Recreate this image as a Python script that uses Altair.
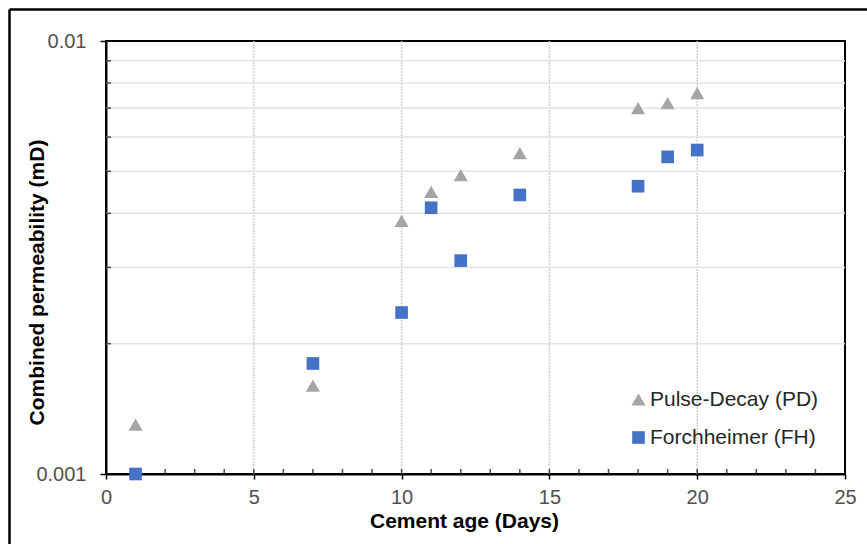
import altair as alt
import pandas as pd

# ---- data ----
days = [1, 7, 10, 11, 12, 14, 18, 19, 20]
pd_perm = [0.00130, 0.00160, 0.00384, 0.00448, 0.00490, 0.00551, 0.00700, 0.00719, 0.00758]
fh_perm = [0.00100, 0.00180, 0.00236, 0.00412, 0.00311, 0.00441, 0.00462, 0.00540, 0.00560]
series_names = ["Pulse-Decay (PD)", "Forchheimer (FH)"]
series_colors = ["#A5A5A5", "#4472C4"]
series_shapes = ["triangle-up", "square"]
series_sizes = [200, 160]

x_major = [0, 5, 10, 15, 20, 25]
x_grid = [5, 10, 15, 20]
x_minor = list(range(0, 26))
y_major = [0.001, 0.01]
y_grid = [0.002, 0.003, 0.004, 0.005, 0.006, 0.007, 0.008, 0.009]

W, H = 739, 433
FONT = "Liberation Sans"

rows = []
for d, v in zip(days, pd_perm):
    rows.append({"day": d, "perm": v, "series": series_names[0]})
for d, v in zip(days, fh_perm):
    rows.append({"day": d, "perm": v, "series": series_names[1]})
df = pd.DataFrame(rows)

xscale = alt.Scale(domain=[0, 25], nice=False, zero=False)
yscale = alt.Scale(type="log", domain=[0.001, 0.01], nice=False)

x_axis = alt.Axis(
    values=x_major,
    title="Cement age (Days)",
    grid=False,
    tickSize=5,
    tickWidth=1.5,
    tickColor="black",
    domainColor="black",
    domainWidth=2,
    labelFont=FONT,
    labelFontSize=20,
    labelColor="#505050",
    labelPadding=8,
    labelFlush=False,
    titleFont=FONT,
    titleFontSize=21,
    titleFontWeight="bold",
    titleColor="#000000",
    titlePadding=3,
    titleX=358,
)
y_axis = alt.Axis(
    values=y_major,
    labelExpr="datum.value > 0.005 ? '0.01' : '0.001'",
    title="Combined permeability  (mD)",
    grid=False,
    tickSize=6,
    tickWidth=1.5,
    tickColor="black",
    domainColor="black",
    domainWidth=2,
    labelFont=FONT,
    labelFontSize=20,
    labelColor="#505050",
    labelPadding=14,
    labelFlush=False,
    titleFont=FONT,
    titleFontSize=21,
    titleFontWeight="bold",
    titleColor="#000000",
    titleAngle=270,
    titleBaseline="middle",
    titleAlign="center",
    titleX=-69,
    titleY=241,
)

# grid lines
hgrid = alt.Chart(pd.DataFrame({"v": y_grid})).mark_rule(
    color="#E3E3E3", strokeWidth=1.5
).encode(y=alt.Y("v:Q", scale=yscale, axis=y_axis))

vgrid = alt.Chart(pd.DataFrame({"v": x_grid})).mark_rule(
    color="#CFCFCF", strokeWidth=1.5, strokeDash=[2, 1]
).encode(x=alt.X("v:Q", scale=xscale, axis=x_axis))

# inward minor ticks
xticks_in = alt.Chart(pd.DataFrame({"v": x_minor})).mark_tick(
    color="black", thickness=1.5, size=5, orient="vertical"
).encode(x=alt.X("v:Q", scale=xscale, axis=x_axis), y=alt.value(H - 2.5))

yticks_in = alt.Chart(pd.DataFrame({"v": y_grid})).mark_tick(
    color="black", thickness=1.5, size=5, orient="horizontal"
).encode(y=alt.Y("v:Q", scale=yscale, axis=y_axis), x=alt.value(2.5))

legend = alt.Legend(
    title=None,
    orient="none",
    legendX=522,
    legendY=348,
    labelFont=FONT,
    labelFontSize=21,
    labelColor="#262626",
    labelLimit=400,
    symbolSize=80,
    symbolStrokeWidth=0,
    rowPadding=16,
    labelOffset=1,
    padding=0,
)

points = alt.Chart(df).mark_point(filled=True, opacity=1).encode(
    x=alt.X("day:Q", scale=xscale, axis=x_axis),
    y=alt.Y("perm:Q", scale=yscale, axis=y_axis),
    color=alt.Color("series:N", scale=alt.Scale(domain=series_names, range=series_colors), legend=legend),
    shape=alt.Shape("series:N", scale=alt.Scale(domain=series_names, range=series_shapes), legend=legend),
    size=alt.Size("series:N", scale=alt.Scale(domain=series_names, range=series_sizes), legend=None),
)

# outer chart-area border (top and left edges visible)
border_top = alt.Chart(pd.DataFrame({"v": [0]})).mark_rule(
    color="black", strokeWidth=2.5
).encode(x=alt.value(-96.5), x2=alt.value(W + 40), y=alt.value(-31.5))
border_left = alt.Chart(pd.DataFrame({"v": [0]})).mark_rule(
    color="black", strokeWidth=2.5
).encode(x=alt.value(-96.5), y=alt.value(-31.5), y2=alt.value(H + 90))

chart = (
    alt.layer(vgrid, hgrid, xticks_in, yticks_in, points, border_top, border_left)
    .properties(
        width=W,
        height=H,
        autosize=alt.AutoSizeParams(type="none"),
        padding={"left": 106, "top": 41, "right": 22, "bottom": 70},
        background="white",
    )
    .configure_view(stroke="black", strokeWidth=2)
)

chart.save("out.html", embed_options={"renderer": "svg", "actions": False})
